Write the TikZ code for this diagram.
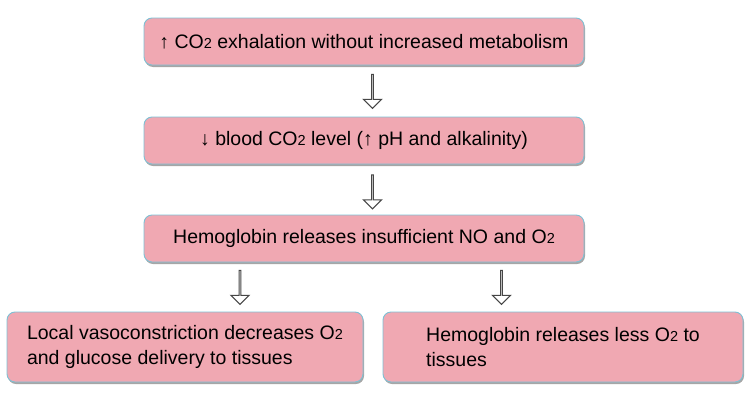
\documentclass[tikz,border=0pt]{standalone}
\usepackage{fontspec}
\setmainfont{Liberation Sans}
\usetikzlibrary{calc,shapes.arrows,shadows}

\definecolor{boxpink}{RGB}{240,168,178}
\definecolor{boxline}{RGB}{125,192,212}
\definecolor{arrowgray}{RGB}{70,70,70}

% small "2" set on the baseline, as in the picture
\newcommand{\lowtwo}{{\fontsize{14.5}{14.5}\selectfont 2}}

\tikzset{
  stepbox/.style={draw=boxline, fill=boxpink, line width=0.9pt,
    rounded corners=8pt, inner sep=0pt,
    font=\fontsize{19.5}{25}\selectfont,
    drop shadow={shadow xshift=1pt, shadow yshift=-2pt, opacity=0.35, fill=black}},
  blockarrow/.style={single arrow, draw=arrowgray, fill=white, line width=1.1pt,
    minimum height=34pt, minimum width=18pt, single arrow head extend=5pt,
    inner sep=0pt, shape border rotate=270}
}

\begin{document}
\begin{tikzpicture}[x=1pt, y=-1pt]
    \useasboundingbox (0,0) rectangle (750,399);

    % the three boxes of the chain
    \node [stepbox, minimum width=440pt, minimum height=47pt] (exhale) at (364,41.5)
      {↑ CO\lowtwo{} exhalation without increased metabolism};
    \node [stepbox, minimum width=440pt, minimum height=47pt] (blood) at (364,140.5)
      {↓ blood CO\lowtwo{} level (↑ pH and alkalinity)};
    \node [stepbox, minimum width=440pt, minimum height=47pt] (hemo) at (364,238.5)
      {Hemoglobin releases insufficient NO and O\lowtwo};

    % the two results
    \node [stepbox, align=left, minimum width=356pt, minimum height=70pt] (vaso) at (185,347)
      {Local vasoconstriction decreases O\lowtwo\\and glucose delivery to tissues};
    \node [stepbox, align=left, minimum width=360pt, minimum height=70pt] (less) at (563,347)
      {Hemoglobin releases less O\lowtwo{} to\\tissues};

    % hollow arrows between the boxes
    \node [blockarrow] (a1) at ($(exhale.south)!0.5!(blood.north) + (8.5,0)$) {};
    \node [blockarrow] (a2) at ($(blood.south)!0.5!(hemo.north) + (8.5,2)$) {};
    \node [blockarrow] (a3) at ($(hemo.south)!0.5!(vaso.north) + (-34.5,0)$) {};
    \node [blockarrow] (a4) at ($(hemo.south)!0.5!(less.north) + (38,0)$) {};
\end{tikzpicture}
\end{document}
